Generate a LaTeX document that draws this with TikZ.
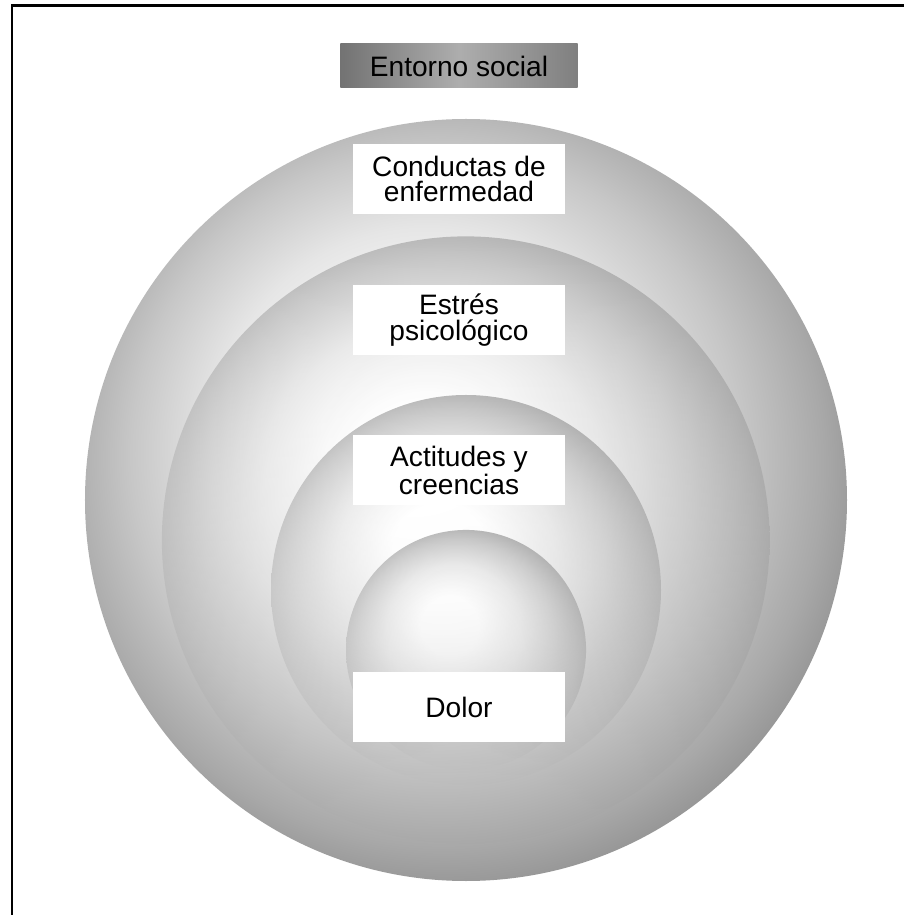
\documentclass[tikz,border=0pt]{standalone}
\usepackage{fontspec}
\setmainfont{Liberation Sans}
\usetikzlibrary{calc, positioning, fadings}

% 球の陰影 (左上が明るく、右下が暗い)
\pgfdeclareradialshading{esfera}{\pgfpoint{-4bp}{6bp}}{%
  color(0bp)=(white);
  color(6bp)=(white);
  color(14bp)=(black!10);
  color(20bp)=(black!22);
  color(25bp)=(black!34);
  color(32bp)=(black!55);
  color(40bp)=(black!55)}

% 内側の球は下半分で消える
\tikzfading[name=fade abajo, top color=transparent!0,
  middle color=transparent!0, bottom color=transparent!100]

\tikzset{
  capa/.style={shading=esfera},
  capa interior/.style={shading=esfera, path fading=fade abajo},
  rotulo/.style={fill=white, minimum width=4.24cm, minimum height=1.4cm,
    align=center, inner sep=0pt, font=\fontsize{16}{14.5}\selectfont},
  titulo/.style={minimum width=4.74cm, minimum height=0.88cm, inner sep=0pt,
    left color=black!55, right color=black!50, middle color=black!32,
    font=\fontsize{16}{14.5}\selectfont},
}

\begin{document}
\begin{tikzpicture}
        % 定義
        \def\Ra{7.62} % 外側の球の半径
        \def\Rb{6.08}
        \def\Rc{3.90}
        \def\Rd{2.40} % 一番内側
        \def\X{-0.14} % ラベルの中心

        \useasboundingbox (-9.32,-8.30) rectangle (8.76,10.0);

        % 枠 (左と上)
        \draw[line width=1.7pt] (-9.08,-8.6) -- (-9.08,9.88) -- (9.0,9.88);

        % 入れ子の球
        \shade[capa] (0,0) circle (\Ra);
        \shade[capa interior] (0,-0.8) circle (\Rb);
        \shade[capa interior] (0,-1.8) circle (\Rc);
        \shade[capa interior] (0,-3.0) circle (\Rd);

        % ラベル
        \node[titulo] (entorno) at (\X,8.68) {Entorno social};
        \node[rotulo] (conductas) at (\X,6.42) {Conductas de\\enfermedad};
        \node[rotulo] (estres) at (\X,3.60) {Estrés\\psicológico};
        \node[rotulo] (actitudes) at (\X,0.60) {Actitudes y\\creencias};
        \node[rotulo] (dolor) at (\X,-4.14) {Dolor};

    \end{tikzpicture}
\end{document}
